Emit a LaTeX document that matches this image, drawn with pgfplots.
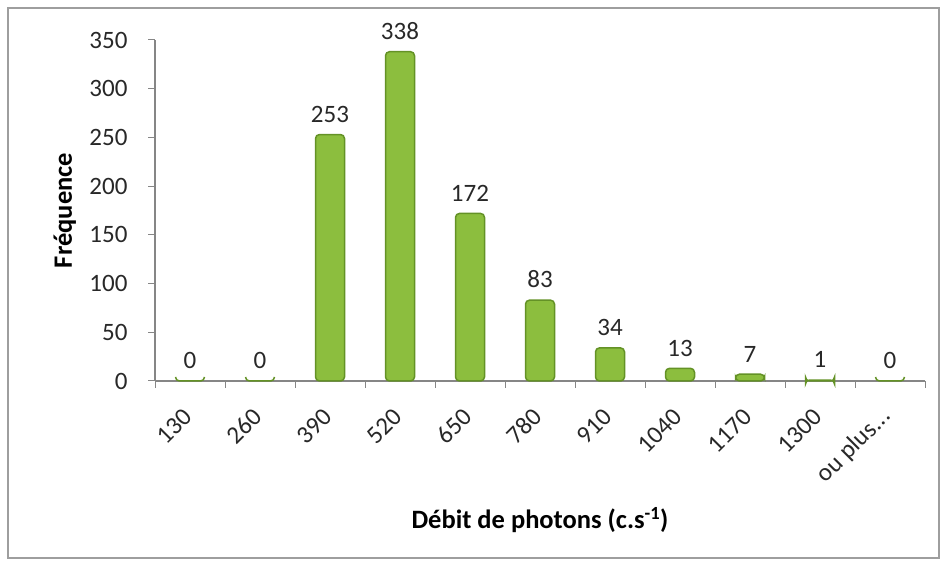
\documentclass[border=0pt]{standalone}
\usepackage{pgfplots}
\pgfplotsset{compat=1.18}
\usepackage{fontspec}
\setmainfont{Carlito}
\definecolor{barg}{RGB}{140,190,62}
\definecolor{bard}{RGB}{100,146,38}
\definecolor{axg}{RGB}{134,134,134}
\definecolor{txt}{RGB}{40,40,40}
\begin{document}
\begin{tikzpicture}[x=1pt,y=1pt]
\path[use as bounding box] (0,0) rectangle (945,562);
\draw[axg!80, line width=1.2pt] (8,4) rectangle (939,554);
\begin{axis}[
  /pgf/number format/assume math mode=true,
  at={(155pt,181pt)}, anchor=south west,
  scale only axis, width=770pt, height=341pt,
  xmin=-0.5, xmax=10.5, ymin=0, ymax=350,
  axis x line*=bottom, axis y line*=left,
  ytick={0,50,...,350},
  xtick={0,1,2,3,4,5,6,7,8,9,10},
  xticklabels={130,260,390,520,650,780,910,1040,1170,1300,{ou plus.\kern0.5pt.\kern0.5pt.}},
  minor xtick={-0.5,0.5,1.5,2.5,3.5,4.5,5.5,6.5,7.5,8.5,9.5,10.5},
  major x tick style={draw=none},
  tick align=outside, major tick length=7pt, minor tick length=7pt,
  tick style={axg, line width=1pt},
  axis line style={axg, line width=1.2pt},
  every tick label/.append style={font=\fontsize{25}{30}\selectfont, color=txt},
  yticklabel style={xshift=-17pt},
  xticklabel style={xshift=0pt, yshift=-22pt, rotate=45, anchor=east},
  ybar, bar width=29pt,
  nodes near coords,
  nodes near coords style={font=\fontsize{25}{30}\selectfont, color=txt, yshift=8pt},
  ylabel={\textbf{Fréquence}},
  ylabel style={at={(axis description cs:-0.117,0.5)}, anchor=center, font=\fontsize{26.5}{30}\selectfont, color=black},
  xlabel={\textbf{Débit de photons (c.s\textsuperscript{-1})}},
  xlabel style={at={(axis description cs:0.5,-0.408)}, anchor=center, font=\fontsize{26.5}{30}\selectfont, color=black},
  clip=false,
]
\addplot[draw=bard, line width=1.5pt, fill=barg, rounded corners=4pt]
  coordinates {(0,0) (1,0) (2,253) (3,338) (4,172) (5,83) (6,34) (7,13) (8,7) (9,1) (10,0)};
\end{axis}
\end{tikzpicture}
\end{document}
